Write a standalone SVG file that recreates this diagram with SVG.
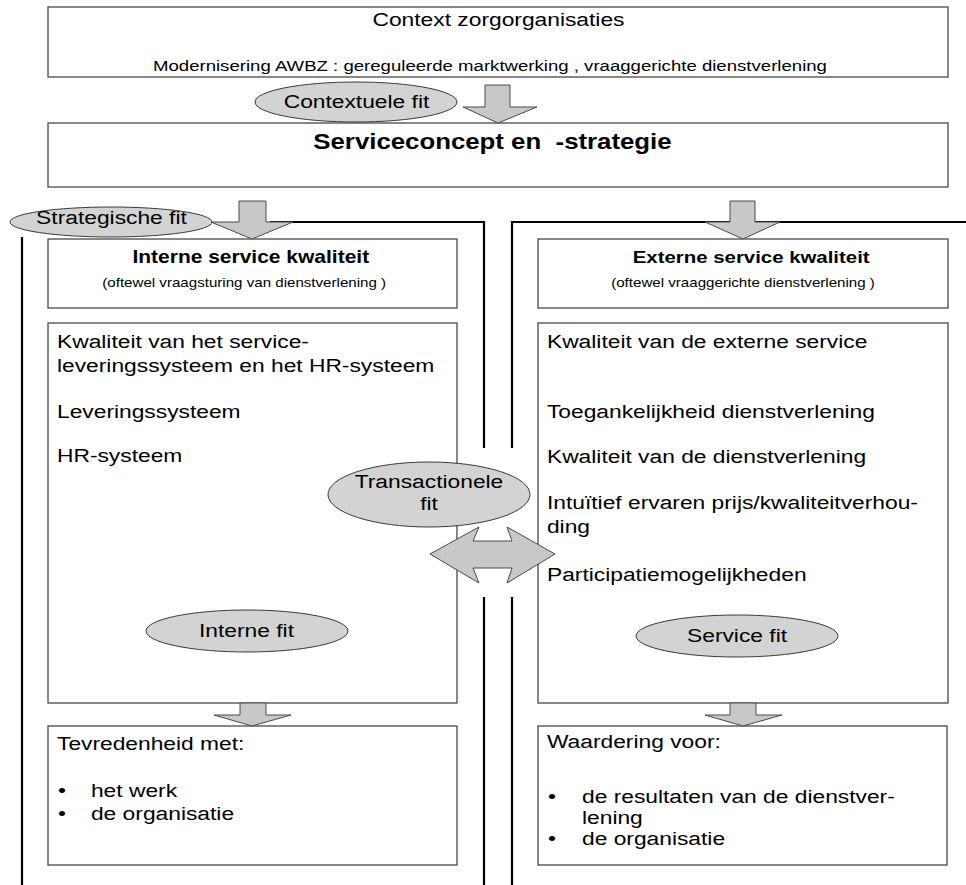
<svg xmlns="http://www.w3.org/2000/svg" width="966" height="885" viewBox="0 0 966 885">
  <style>
    .box { fill: #ffffff; stroke: #3a3a3a; stroke-width: 1.2; }
    .oval { fill: #d3d3d3; stroke: #3a3a3a; stroke-width: 1; }
    .blk { fill: #c8c8c8; stroke: #4a4a4a; stroke-width: 1; stroke-linejoin: miter; }
    .frame { fill: none; stroke: #000000; stroke-width: 2.2; }
    text { font-family: "Liberation Sans", Arial, Helvetica, sans-serif; fill: #000000; font-size: 19px; }
    .c { text-anchor: middle; }
    .b { font-weight: bold; }
    .sm { font-size: 15.5px; }
    .xs { font-size: 12.6px; }
  </style>

  <!-- context box -->
  <g id="context">
    <rect class="box" x="48" y="7" width="900" height="70"/>
    <g transform="scale(1.2 1)">
      <text class="c" x="415.4" y="26">Context zorgorganisaties</text>
      <text class="c sm" x="408.3" y="71">Modernisering AWBZ : gereguleerde marktwerking , vraaggerichte dienstverlening</text>
    </g>
  </g>

  <!-- service concept box -->
  <g id="serviceconcept">
    <rect class="box" x="48" y="123" width="900" height="64"/>
    <g transform="scale(1.2 1)">
      <text class="c b" x="410.4" y="149" style="font-size:21.5px" xml:space="preserve">Serviceconcept en  -strategie</text>
    </g>
  </g>

  <!-- internal quality header -->
  <g id="interne-kwaliteit">
    <rect class="box" x="48" y="239" width="409" height="69"/>
    <g transform="scale(1.2 1)">
      <text class="c b" x="209" y="263" style="font-size:17.5px">Interne service kwaliteit</text>
      <text class="c xs" x="203.5" y="287">(oftewel vraagsturing van dienstverlening )</text>
    </g>
  </g>

  <!-- external quality header -->
  <g id="externe-kwaliteit">
    <rect class="box" x="538" y="239" width="410" height="69"/>
    <g transform="scale(1.2 1)">
      <text class="c b" x="626" y="263" style="font-size:17px">Externe service kwaliteit</text>
      <text class="c xs" x="619.2" y="287">(oftewel vraaggerichte dienstverlening )</text>
    </g>
  </g>

  <!-- internal systems -->
  <g id="interne-systemen">
    <rect class="box" x="48" y="323" width="409" height="380"/>
    <g transform="scale(1.2 1)">
      <text x="47.5" y="348">Kwaliteit van het service-</text>
      <text x="47.5" y="372">leveringssysteem en het HR-systeem</text>
      <text x="47.5" y="418">Leveringssysteem</text>
      <text x="47.5" y="462">HR-systeem</text>
    </g>
  </g>

  <!-- external service aspects -->
  <g id="externe-service">
    <rect class="box" x="538" y="323" width="410" height="380"/>
    <g transform="scale(1.2 1)">
      <text x="455.8" y="348">Kwaliteit van de externe service</text>
      <text x="455.8" y="418">Toegankelijkheid dienstverlening</text>
      <text x="455.8" y="463">Kwaliteit van de dienstverlening</text>
      <text x="455.8" y="509">Intuïtief ervaren prijs/kwaliteitverhou-</text>
      <text x="455.8" y="533">ding</text>
      <text x="455.8" y="581">Participatiemogelijkheden</text>
    </g>
  </g>

  <!-- employee satisfaction -->
  <g id="tevredenheid">
    <rect class="box" x="48" y="726" width="409" height="139"/>
    <g transform="scale(1.2 1)">
      <text x="47.5" y="750">Tevredenheid met:</text>
      <text x="48.3" y="797">•</text>
      <text x="75.8" y="797">het werk</text>
      <text x="48.3" y="820">•</text>
      <text x="75.8" y="820">de organisatie</text>
    </g>
  </g>

  <!-- client appreciation -->
  <g id="waardering">
    <rect class="box" x="538" y="726" width="409" height="139"/>
    <g transform="scale(1.2 1)">
      <text x="455.8" y="748">Waardering voor:</text>
      <text x="456.7" y="803">•</text>
      <text x="485" y="803">de resultaten van de dienstver-</text>
      <text x="485" y="824">lening</text>
      <text x="456.7" y="845">•</text>
      <text x="485" y="845">de organisatie</text>
    </g>
  </g>

  <!-- connectors: frame lines and block arrows -->
  <g id="connectors">
    <path class="frame" d="M22,237 V885 M270,222 H484 V448 M484,597 V885"/>
    <path class="frame" d="M512,448 V222 H966 M512,597 V885"/>
    <path class="blk" d="M485,85 H510 V107 H537 L498,123 L463,107 H485 Z"/>
    <path class="blk" d="M239,201 H266 V222 H293 L252,239 L211,222 H239 Z"/>
    <path class="blk" d="M730,201 H755 V222 H780 L743,239 L705,222 H730 Z"/>
    <path class="blk" d="M240,703 H266 V715 H291 L252,726 L214,715 H240 Z"/>
    <path class="blk" d="M730,703 H756 V715 H782 L743,726 L705,715 H730 Z"/>
    <path class="blk" d="M430,554 L479,527 L473,541 H512 L507,527 L555,554 L507,583 L512,568 H473 L479,583 Z"/>
  </g>

  <!-- fit labels -->
  <g id="contextuele-fit">
    <ellipse class="oval" cx="356" cy="102" rx="101" ry="20"/>
    <g transform="scale(1.2 1)"><text class="c" x="297.1" y="108">Contextuele fit</text></g>
  </g>
  <g id="strategische-fit">
    <ellipse class="oval" cx="111" cy="222" rx="101" ry="15"/>
    <g transform="scale(1.2 1)"><text class="c" x="92.9" y="224">Strategische fit</text></g>
  </g>
  <g id="transactionele-fit">
    <ellipse class="oval" cx="429" cy="494.5" rx="101" ry="32.5"/>
    <g transform="scale(1.2 1)">
      <text class="c" x="357.5" y="488">Transactionele</text>
      <text class="c" x="357.5" y="510">fit</text>
    </g>
  </g>
  <g id="interne-fit">
    <ellipse class="oval" cx="247" cy="631" rx="101" ry="21"/>
    <g transform="scale(1.2 1)"><text class="c" x="205.4" y="637">Interne fit</text></g>
  </g>
  <g id="service-fit">
    <ellipse class="oval" cx="737" cy="636" rx="101" ry="21"/>
    <g transform="scale(1.2 1)"><text class="c" x="614.2" y="642">Service fit</text></g>
  </g>
</svg>
